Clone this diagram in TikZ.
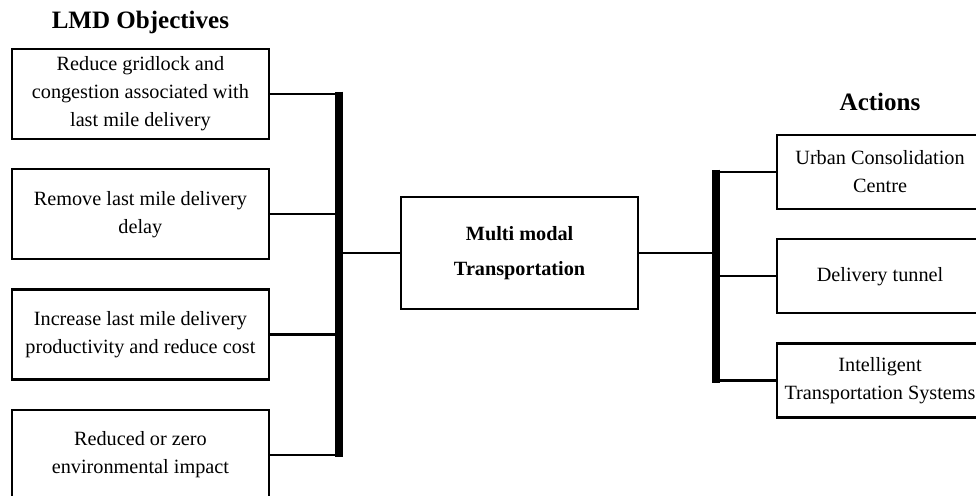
\documentclass[tikz,border=0pt]{standalone}
\usepackage{fontspec}
\setmainfont{Liberation Serif}
\usetikzlibrary{positioning}

\tikzset{
    goalbox/.style={
        rectangle,
        draw,
        line width=1.6pt,
        minimum width=6.425cm,
        minimum height=2.25cm,
        inner sep=0pt,
        align=center,
        font=\fontsize{14.4}{20}\selectfont
    },
    actbox/.style={
        goalbox,
        minimum width=5.15cm,
        minimum height=1.85cm
    },
    hubbox/.style={
        goalbox,
        minimum width=5.925cm,
        minimum height=2.8cm,
        font=\fontsize{14.4}{25}\selectfont\bfseries
    },
    heading/.style={
        inner sep=0pt,
        text depth=0pt,
        font=\fontsize{17.8}{21}\selectfont\bfseries
    },
    branch/.style={
        line width=1.6pt
    },
    bus/.style={
        line width=5pt,
        shorten <=-0.06cm,
        shorten >=-0.06cm
    }
}

\begin{document}
\begin{tikzpicture}
    \useasboundingbox (0,0) rectangle (24.4,-12.375);
    \clip (0,0) rectangle (24.4,-12.375);

    % objectives on the left
    \node[goalbox] (goal1) at (3.51,-2.35) {Reduce gridlock and\\congestion associated with\\last mile delivery};
    \node[goalbox, below=0.7cm of goal1] (goal2) {Remove last mile delivery\\delay};
    \node[goalbox, below=0.7cm of goal2] (goal3) {Increase last mile delivery\\productivity and reduce cost};
    \node[goalbox, below=0.7cm of goal3] (goal4) {Reduced or zero\\environmental impact};
    \node[heading, above=0.475cm of goal1] (goaltitle) {LMD Objectives};

    % hub
    \node[hubbox] (hub) at (12.99,-6.33) {Multi modal\\Transportation};

    % actions on the right
    \node[actbox] (act1) at (22.0,-4.3) {Urban Consolidation\\Centre};
    \node[actbox, below=0.7cm of act1] (act2) {Delivery tunnel};
    \node[actbox, below=0.7cm of act2] (act3) {Intelligent\\Transportation Systems};
    \node[heading, above=0.575cm of act1] (acttitle) {Actions};

    \coordinate (lbus) at (8.475,0);
    \coordinate (rbus) at (17.9,0);

    \draw[branch] (goal1.east) -- (goal1.east -| lbus);
    \draw[branch] (goal2.east) -- (goal2.east -| lbus);
    \draw[branch] (goal3.east) -- (goal3.east -| lbus);
    \draw[branch] (goal4.east) -- (goal4.east -| lbus);
    \draw[bus] (goal1.east -| lbus) -- (goal4.east -| lbus);
    \draw[branch] (hub.west -| lbus) -- (hub.west);

    \draw[branch] (hub.east) -- (hub.east -| rbus);
    \draw[bus] (act1.west -| rbus) -- (act3.west -| rbus);
    \draw[branch] (act1.west -| rbus) -- (act1.west);
    \draw[branch] (act2.west -| rbus) -- (act2.west);
    \draw[branch] (act3.west -| rbus) -- (act3.west);
\end{tikzpicture}
\end{document}
